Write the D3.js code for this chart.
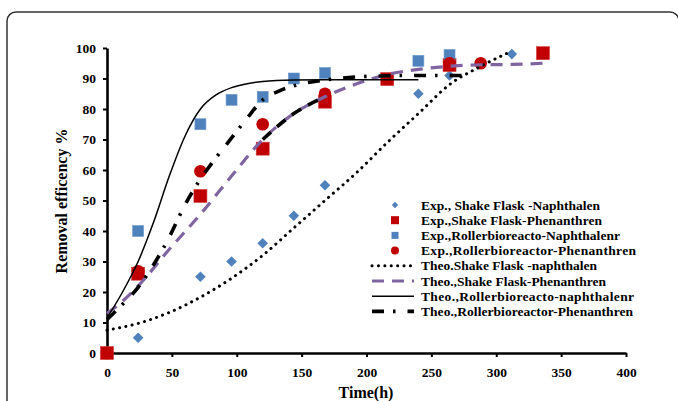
<!DOCTYPE html>
<html>
<head>
<meta charset="utf-8">
<script src="https://cdn.jsdelivr.net/npm/d3@7"></script>
<style>
  body { margin: 0; background: #fff; }
  svg { display: block; }
  text { font-family: "Liberation Serif", "Times New Roman", serif; font-weight: bold; fill: #000; }
</style>
</head>
<body>
<svg width="678" height="401"></svg>
<script>
// time ticks and value ticks
var xTicks = [0, 50, 100, 150, 200, 250, 300, 350, 400];
var yTicks = [0, 10, 20, 30, 40, 50, 60, 70, 80, 90, 100];

// experimental points [time, removal %]
var expShakeNaph = [[0, 0], [24, 5], [72, 25], [96, 30], [120, 36], [144, 45], [168, 55], [240, 85], [264, 91], [312, 98]];
var expShakePhen = [[0, 0], [24, 26], [72, 51.5], [120, 67], [168, 82.4], [216, 89.8], [264, 94.4], [336, 98.3]];
var expRollerNaph = [[24, 40], [72, 75], [96, 83], [120, 84], [144, 90], [168, 91.8], [240, 95.8], [264, 97.7]];
var expRollerPhen = [[0, 0], [24, 26.8], [72, 59.6], [120, 75], [168, 85], [264, 95], [288, 95]];

// theoretical curves
var theoShakeNaph = [[0, 7.5], [24, 9.7], [48, 13.3], [72, 18.3], [96, 24.5], [120, 32], [144, 41], [168, 50], [192, 59], [216, 69], [240, 78.5], [264, 88], [288, 94], [312, 99]];
var theoShakePhen = [[0, 13], [12, 17], [24, 22], [48, 34], [72, 45.5], [96, 58], [120, 70], [144, 78.5], [168, 84], [192, 88.2], [216, 91.3], [240, 93], [264, 94], [288, 94.5], [312, 94.6], [336, 95]];
var theoRollerNaph = [[0, 11.5], [12, 20], [24, 30], [36, 43], [48, 58], [60, 71], [72, 80], [84, 84.6], [96, 87], [108, 88.3], [120, 89], [144, 89.5], [168, 89.6], [192, 89.6], [216, 89.6], [240, 89.6]];
var theoRollerPhen = [[0, 11], [12, 16], [24, 21.5], [36, 29], [48, 38], [60, 48.5], [72, 57], [84, 64], [96, 70.5], [108, 77], [120, 83], [132, 85.8], [144, 87.6], [168, 89.5], [192, 90.5], [216, 90.9], [240, 91], [264, 91], [280, 91]];
// short black dashed piece lying over the purple curve
var theoRollerPhenB = [[120, 70], [144, 78.5], [168, 84]];

var legendNames = [
  "Exp., Shake Flask -Naphthalen",
  "Exp.,Shake Flask-Phenanthren",
  "Exp.,Rollerbioreacto-Naphthalenr",
  "Exp.,Rollerbioreactor-Phenanthren",
  "Theo.Shake Flask -naphthalen",
  "Theo.,Shake Flask-Phenanthren",
  "Theo.,Rollerbioreacto-naphthalenr",
  "Theo.,Rollerbioreactor-Phenanthren"
];
// rendered widths of the legend labels
var legendWidths = [179, 181, 199, 215, 176, 185, 213, 212];

var blue = "#4f81bd", red = "#c00000", purple = "#8064a2";

var svg = d3.select("svg");

// outer frame
svg.append("rect")
   .attr("x", 7).attr("y", 12)
   .attr("width", 672).attr("height", 400)
   .attr("rx", 9)
   .attr("fill", "none")
   .attr("stroke", "#333")
   .attr("stroke-width", 1.5);

var x = d3.scaleLinear().domain([0, 400]).range([107, 626]),
    y = d3.scaleLinear().domain([0, 100]).range([353, 48]);

var xAxis = svg.append("g")
   .attr("transform", "translate(0,353)")
   .call(d3.axisBottom(x).tickValues(xTicks).tickSize(4).tickSizeOuter(0).tickPadding(10));
var yAxis = svg.append("g")
   .attr("transform", "translate(107,0)")
   .call(d3.axisLeft(y).tickValues(yTicks).tickSize(4).tickSizeOuter(0).tickPadding(7));

[xAxis, yAxis].forEach(function(a) {
  a.select(".domain").attr("stroke", "#000").attr("stroke-width", 2.6);
  a.selectAll(".tick line").attr("stroke", "#000").attr("stroke-width", 2);
  a.selectAll(".tick text")
   .attr("font-family", "Liberation Serif, Times New Roman, serif")
   .attr("font-weight", "bold")
   .attr("font-size", "13.5px")
   .attr("fill", "#000");
});

svg.append("text")
   .attr("x", 366).attr("y", 398)
   .attr("text-anchor", "middle")
   .attr("font-size", "16px")
   .text("Time(h)");

svg.append("text")
   .attr("transform", "translate(67,201) rotate(-90)")
   .attr("text-anchor", "middle")
   .attr("font-size", "16px")
   .text("Removal efficency %");

// markers
function diamond(g, d, s, col) {
  return g.append("path").attr("d", d3.symbol().type(d3.symbolSquare).size(s * s)())
   .attr("transform", "translate(" + x(d[0]) + "," + y(d[1]) + ") rotate(45)")
   .attr("fill", col);
}
var marks = svg.append("g");
expShakeNaph.forEach(function(d) { diamond(marks, d, 7.5, blue); });
marks.selectAll(".sq1").data(expShakePhen).enter().append("rect")
   .attr("x", function(d) { return x(d[0]) - 6.5; })
   .attr("y", function(d) { return y(d[1]) - 6.5; })
   .attr("width", 13).attr("height", 13)
   .attr("fill", red).attr("stroke", "#d23a3a").attr("stroke-width", 0.6);
marks.selectAll(".sq2").data(expRollerNaph).enter().append("rect")
   .attr("x", function(d) { return x(d[0]) - 5.5; })
   .attr("y", function(d) { return y(d[1]) - 5.5; })
   .attr("width", 11).attr("height", 11)
   .attr("fill", blue).attr("stroke", "#6f9bd0").attr("stroke-width", 0.6);
marks.selectAll("circle").data(expRollerPhen).enter().append("circle")
   .attr("cx", function(d) { return x(d[0]); })
   .attr("cy", function(d) { return y(d[1]); })
   .attr("r", 6.3)
   .attr("fill", red);

// theoretical lines
var line = d3.line()
   .x(function(d) { return x(d[0]); })
   .y(function(d) { return y(d[1]); })
   .curve(d3.curveMonotoneX);

var styles = [
  { data: theoShakeNaph, color: "#000", width: 3, dash: "0.1 6.3", cap: "round" },
  { data: theoShakePhen, color: purple, width: 3.2, dash: "12 8", cap: "butt" },
  { data: theoRollerNaph, color: "#000", width: 1.5, dash: null, cap: "butt" },
  { data: theoRollerPhen, color: "#000", width: 3.6, dash: "12 9 2.5 12", cap: "butt" }
];
styles.forEach(function(s) {
  svg.append("path").attr("d", line(s.data))
     .attr("fill", "none")
     .attr("stroke", s.color)
     .attr("stroke-width", s.width)
     .attr("stroke-dasharray", s.dash)
     .attr("stroke-linecap", s.cap);
});
svg.append("path").attr("d", line(theoRollerPhenB))
   .attr("fill", "none").attr("stroke", "#000")
   .attr("stroke-width", 3.6).attr("stroke-dasharray", "11 8");

// legend
var leg = svg.append("g");
var rowY = function(i) { return 205 + i * 15.2; };
legendNames.forEach(function(name, i) {
  leg.append("text")
     .attr("x", 421).attr("y", rowY(i) + 4.5)
     .attr("font-size", "13.5px")
     .attr("textLength", legendWidths[i])
     .attr("lengthAdjust", "spacing")
     .text(name);
});
diamond(leg, [0, 0], 4.5, blue)
   .attr("transform", "translate(395," + rowY(0) + ") rotate(45)");
leg.append("rect").attr("x", 391).attr("y", rowY(1) - 4).attr("width", 8).attr("height", 8).attr("fill", red);
leg.append("rect").attr("x", 391.5).attr("y", rowY(2) - 3.5).attr("width", 7).attr("height", 7).attr("fill", blue);
leg.append("circle").attr("cx", 395).attr("cy", rowY(3)).attr("r", 4).attr("fill", red);
styles.forEach(function(s, i) {
  leg.append("line")
     .attr("x1", 372).attr("x2", 414)
     .attr("y1", rowY(4 + i)).attr("y2", rowY(4 + i))
     .attr("stroke", s.color)
     .attr("stroke-width", s.width)
     .attr("stroke-dasharray", s.dash)
     .attr("stroke-linecap", s.cap);
});
</script>
</body>
</html>
